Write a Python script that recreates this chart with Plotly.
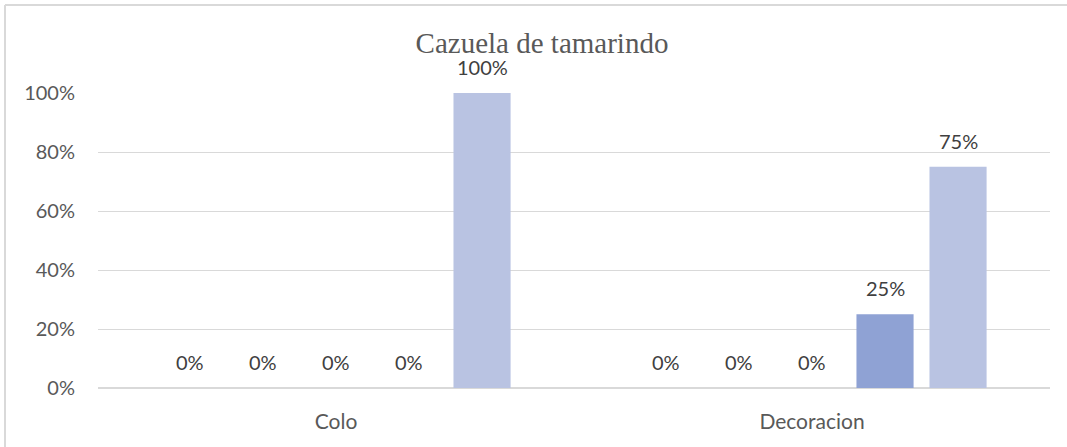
import plotly.graph_objects as go

# Chart data
categories = ["Colo", "Decoracion"]
series_names = ["Serie 1", "Serie 2", "Serie 3", "Serie 4", "Serie 5"]
serie_1 = [0.0, 0.0]
serie_2 = [0.0, 0.0]
serie_3 = [0.0, 0.0]
serie_4 = [0.0, 0.25]
serie_5 = [1.0, 0.75]
y_ticks = [0, 0.2, 0.4, 0.6, 0.8, 1.0]
y_tick_labels = ["0%", "20%", "40%", "60%", "80%", "100%"]

series = [serie_1, serie_2, serie_3, serie_4, serie_5]
colors = ["#26447C", "#3A5EA8", "#6B87C7", "#8FA2D4", "#B9C3E2"]

W, H = 1067, 447
ML, MR, MT, MB = 98, 17, 93, 59
plot_w = W - ML - MR
plot_h = H - MT - MB

slot = 0.1534          # horizontal spacing between bars of a group (category units)
bar_w = 0.12           # bar width (category units)
label_font = dict(family="Lato, sans-serif", size=20, color="#404040")

fig = go.Figure()
annotations = []
for j, (name, vals, col) in enumerate(zip(series_names, series, colors)):
    xs = [i + (j - 2) * slot for i in range(len(categories))]
    fig.add_trace(go.Bar(
        x=xs, y=vals, name=name, width=bar_w,
        marker=dict(color=col, line=dict(width=0)),
        showlegend=False, hoverinfo="skip",
    ))
    for x, v in zip(xs, vals):
        annotations.append(dict(
            x=x, y=v, xref="x", yref="y", text=f"{v:.0%}",
            showarrow=False, yanchor="bottom", yshift=12,
            font=label_font,
        ))

# Chart-area border (top and left edges fall inside the page)
px2x = lambda px: (px - ML) / plot_w
px2y = lambda py: (H - MB - py) / plot_h
shapes = [
    dict(type="line", xref="paper", yref="paper",
         x0=px2x(5), x1=px2x(W + 10), y0=px2y(5), y1=px2y(5),
         line=dict(color="#D9D9D9", width=2)),
    dict(type="line", xref="paper", yref="paper",
         x0=px2x(5), x1=px2x(5), y0=px2y(5), y1=px2y(H + 10),
         line=dict(color="#D9D9D9", width=2)),
]

fig.update_layout(
    width=W, height=H,
    margin=dict(l=ML, r=MR, t=MT, b=MB),
    paper_bgcolor="white", plot_bgcolor="white",
    barmode="overlay",
    title=dict(text="Cazuela de tamarindo", x=542 / W, xanchor="center",
               xref="container", yref="container", y=1 - 43 / H, yanchor="middle",
               font=dict(family="Liberation Serif, Times New Roman, serif",
                         size=29, color="#595959")),
    annotations=annotations,
    shapes=shapes,
)
fig.update_xaxes(
    range=[-0.5, len(categories) - 0.5],
    tickvals=list(range(len(categories))), ticktext=categories,
    showgrid=False, zeroline=False, showline=False, ticks="",
    ticklabelstandoff=19,
    tickfont=dict(family="Lato, sans-serif", size=21, color="#595959"),
)
fig.update_yaxes(
    range=[0, 1], tickvals=y_ticks, ticktext=y_tick_labels,
    showgrid=True, gridcolor="#D9D9D9", gridwidth=1,
    zeroline=True, zerolinecolor="#D9D9D9", zerolinewidth=2,
    showline=False, ticks="", ticklabelstandoff=22,
    tickfont=dict(family="Lato, sans-serif", size=20, color="#595959"),
)

fig.write_html("out.html")
